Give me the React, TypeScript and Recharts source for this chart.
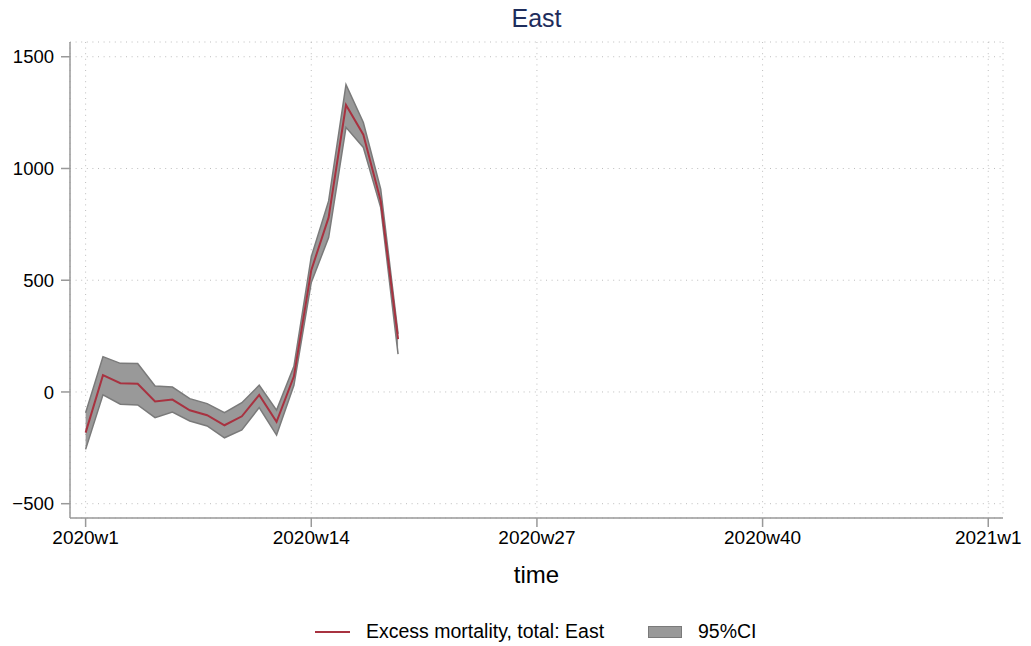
import React from 'react';
import { ComposedChart, Area, Line, XAxis, YAxis, CartesianGrid, Label } from 'recharts';

// week numbers of 2020 with data
const weeks = [1, 2, 3, 4, 5, 6, 7, 8, 9, 10, 11, 12, 13, 14, 15, 16, 17, 18, 19];
// excess mortality estimate
const excess = [-182, 75, 39, 37, -43, -34, -82, -104, -149, -109, -13, -134, 70, 545, 781, 1284, 1151, 855, 236];
// 95% confidence interval bounds
const ciLow = [-257, -13, -55, -58, -115, -90, -130, -152, -205, -170, -70, -193, 30, 490, 691, 1184, 1094, 825, 169];
const ciHigh = [-93, 158, 128, 127, 27, 22, -30, -52, -93, -48, 30, -81, 115, 605, 855, 1375, 1206, 908, 260];

const xTicks = [0, 13, 26, 39, 52];
const xTickLabels = ['2020w1', '2020w14', '2020w27', '2020w40', '2021w1'];
const yTicks = [-500, 0, 500, 1000, 1500];

const FONT = '"Liberation Sans", Arial, sans-serif';
const LINE_COLOR = '#a83240';

const chartData = weeks.map((w, i) => ({
  t: w - 1,
  excess: excess[i],
  ci: [ciLow[i], ciHigh[i]],
}));

const App: React.FC = () => {
  return (
    <div style={{ position: 'absolute', left: 0, top: 0, width: 1031, height: 646, background: '#fff', fontFamily: FONT }}>
      <div style={{ position: 'absolute', left: 70, width: 933, top: 4, textAlign: 'center', fontSize: 25, color: '#1e2d5c' }}>
        East
      </div>

      <ComposedChart width={1031} height={646} data={chartData} margin={{ top: 42, right: 28, bottom: 58, left: 0 }}>
        <CartesianGrid stroke="#bdbdbd" strokeDasharray="1 4.6" />
        <XAxis
          dataKey="t"
          type="number"
          domain={[-0.9, 52.85]}
          ticks={xTicks}
          tickFormatter={(v) => xTickLabels[xTicks.indexOf(v)] ?? ''}
          interval={0}
          height={70}
          tickSize={9}
          tickMargin={4}
          tick={{ fill: '#000', fontSize: 19, fontFamily: FONT }}
          axisLine={{ stroke: '#999', strokeWidth: 1.5 }}
          tickLine={{ stroke: '#999', strokeWidth: 1.5 }}
          allowDataOverflow
        >
          <Label value="time" position="insideBottom" offset={5} style={{ fill: '#000', fontSize: 24, fontFamily: FONT }} />
        </XAxis>
        <YAxis
          type="number"
          domain={[-564, 1566]}
          ticks={yTicks}
          interval={0}
          width={70}
          tickSize={9}
          tickMargin={7}
          tickFormatter={(v) => String(v).replace('-', '\u2212')}
          tick={{ fill: '#000', fontSize: 18.5, fontFamily: FONT }}
          axisLine={{ stroke: '#999', strokeWidth: 1.5 }}
          tickLine={{ stroke: '#999', strokeWidth: 1.5 }}
          allowDataOverflow
        />
        <Area
          dataKey="ci"
          type="linear"
          stroke="#7a7a7a"
          strokeWidth={1.5}
          fill="#999999"
          fillOpacity={1}
          isAnimationActive={false}
        />
        <Line
          dataKey="excess"
          type="linear"
          stroke={LINE_COLOR}
          strokeWidth={2}
          dot={false}
          isAnimationActive={false}
        />
      </ComposedChart>

      <div style={{ position: 'absolute', top: 620, left: 0, width: 1031, height: 24, fontSize: 19.5, color: '#000' }}>
        <div style={{ position: 'absolute', left: 315, top: 11, width: 35, height: 2, background: LINE_COLOR }} />
        <div style={{ position: 'absolute', left: 366, top: 0 }}>Excess mortality, total: East</div>
        <div style={{ position: 'absolute', left: 648, top: 6, width: 32, height: 10, background: '#999', border: '1.5px solid #7a7a7a' }} />
        <div style={{ position: 'absolute', left: 698, top: 0 }}>95%CI</div>
      </div>
    </div>
  );
};

export default App;
